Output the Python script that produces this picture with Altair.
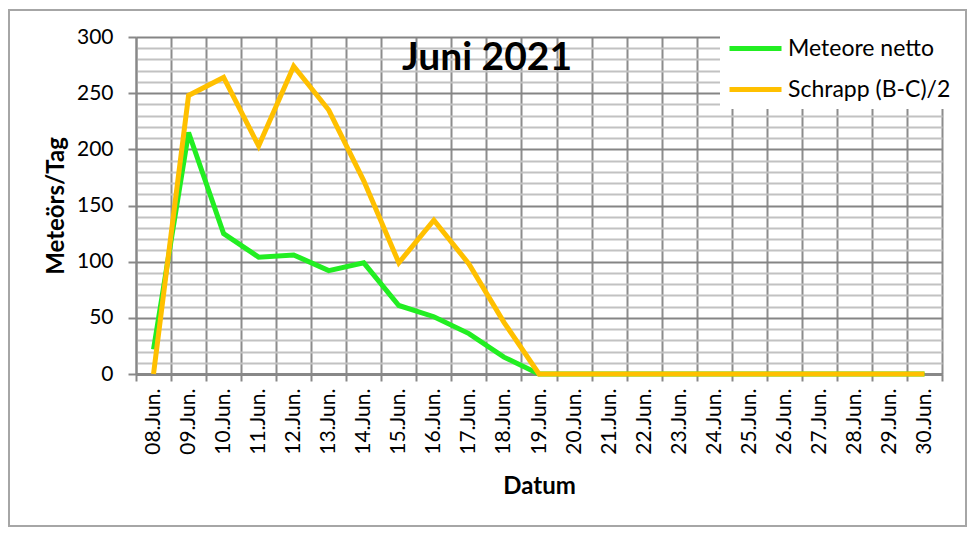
import altair as alt
import pandas as pd

days = ["08.Jun.", "09.Jun.", "10.Jun.", "11.Jun.", "12.Jun.", "13.Jun.", "14.Jun.",
        "15.Jun.", "16.Jun.", "17.Jun.", "18.Jun.", "19.Jun.", "20.Jun.", "21.Jun.",
        "22.Jun.", "23.Jun.", "24.Jun.", "25.Jun.", "26.Jun.", "27.Jun.", "28.Jun.",
        "29.Jun.", "30.Jun."]
meteore_netto = [22, 215, 125, 104, 106, 92, 99, 61, 51, 36, 15, 0,
                 0, 0, 0, 0, 0, 0, 0, 0, 0, 0, 0]
schrapp = [0, 248, 264, 203, 274, 235, 172, 99, 137, 98, 46, 0,
           0, 0, 0, 0, 0, 0, 0, 0, 0, 0, 0]
series_names = ["Meteore netto", "Schrapp (B-C)/2"]
series_colors = ["#22EE22", "#FFC000"]
y_ticks = list(range(0, 301, 10))

rows = []
for name, vals in zip(series_names, [meteore_netto, schrapp]):
    for i, (d, v) in enumerate(zip(days, vals)):
        rows.append({"Datum": d, "Wert": v, "Serie": name, "order": i})
df = pd.DataFrame(rows)

FONT = "Lato"
W, H = 806, 337

lines = alt.Chart(df).mark_line(strokeWidth=5, strokeJoin="miter").encode(
    x=alt.X("Datum:O", sort=days,
            scale=alt.Scale(type="band", paddingInner=0, paddingOuter=0),
            axis=alt.Axis(title="Datum", tickBand="extent", labelAngle=-90,
                          labelFontSize=21, labelFont=FONT, labelColor="black",
                          labelPadding=7, labelBaseline="middle", labelAlign="right",
                          tickSize=7, tickColor="#888888", tickWidth=2,
                          domainColor="#888888", domainWidth=3,
                          grid=True, gridColor="#8c8c8c", gridWidth=2,
                          titleFont=FONT, titleFontSize=24, titleFontWeight="bold",
                          titleColor="black", titlePadding=20)),
    y=alt.Y("Wert:Q",
            scale=alt.Scale(domain=[0, 300], nice=False),
            axis=alt.Axis(title="Meteörs/Tag", values=y_ticks,
                          labelExpr="datum.value % 50 === 0 ? datum.label : ''",
                          labelFontSize=21, labelFont=FONT, labelColor="black",
                          labelPadding=15,
                          tickSize=8, tickWidth=2,
                          tickColor={"condition": {"test": "datum.value % 50 === 0", "value": "#888888"}, "value": "transparent"},
                          domainColor="#888888", domainWidth=2,
                          grid=True, gridWidth=2,
                          gridColor={"condition": {"test": "datum.value % 50 === 0", "value": "#858585"}, "value": "#c2c2c2"},
                          titleFont=FONT, titleFontSize=24, titleFontWeight="bold",
                          titleColor="black", titlePadding=8)),
    color=alt.Color("Serie:N", sort=series_names,
                    scale=alt.Scale(domain=series_names, range=series_colors),
                    legend=alt.Legend(title=None, orient="none", legendX=584, legendY=-24,
                                      fillColor="white", padding=7,
                                      symbolType="stroke", symbolSize=2704,
                                      symbolStrokeWidth=5, rowPadding=-1,
                                      labelFont=FONT, labelFontSize=23,
                                      labelColor="black", labelLimit=300,
                                      labelOffset=4)),
    order="order:Q",
)

title = alt.Chart(pd.DataFrame({"t": ["Juni 2021"]})).mark_text(
    font=FONT, fontSize=39, fontWeight="bold", color="black",
    align="center", baseline="middle"
).encode(text="t:N", x=alt.value(351), y=alt.value(21))

frame = alt.Chart(pd.DataFrame({"f": [0]})).mark_rect(
    fill=None, stroke="#a6a6a6", strokeWidth=2, clip=False
).encode(x=alt.value(-127), x2=alt.value(830), y=alt.value(-27), y2=alt.value(489))

chart = alt.layer(lines, title, frame).properties(
    width=W, height=H,
    autosize=alt.AutoSizeParams(type="none"),
    padding={"left": 128, "top": 29, "right": 26, "bottom": 154},
).configure_view(stroke="#888888", strokeWidth=2).configure(background="white")

chart.save("out.html", embed_options={"renderer": "svg", "actions": False})
